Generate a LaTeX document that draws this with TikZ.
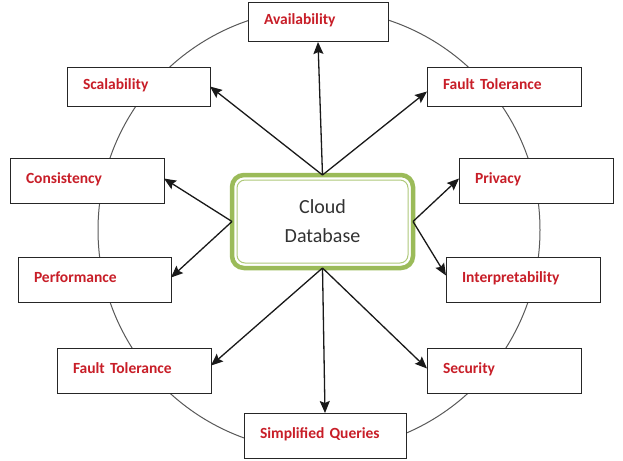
\documentclass[tikz,border=0pt]{standalone}
\usepackage{fontspec}
\setmainfont{Carlito}
\usetikzlibrary{arrows.meta,calc}
\definecolor{cgreen}{RGB}{155,187,89}
\definecolor{ired}{RGB}{200,30,40}
\definecolor{cgray}{RGB}{50,50,50}
\tikzset{
  itembox/.style={draw=black!85, line width=1pt, fill=white, anchor=north west,
    inner xsep=16pt, inner ysep=0pt, outer sep=0pt, align=left,
    text height=11pt, text depth=6pt, text=ired,
    font=\fontsize{15.5}{17}\selectfont\bfseries},
  conn/.style={draw=black!90, line width=1.3pt, -{Stealth[length=12pt,width=10pt,inset=2pt]}},
  ring/.style={draw=black!65, line width=1pt},
}
\newcommand{\itemnode}[7]{%
  \node[itembox, text width=#4pt-32pt, minimum width=#4pt, minimum height=#5pt] (#1) at (#2,#3) {#6};}
\begin{document}
\begin{tikzpicture}[x=1pt,y=-1pt]
\useasboundingbox[fill=white] (0,0) rectangle (623,460);
\draw[ring] (319,230) circle[radius=221pt];
\itemnode{avail}{248}{3}{140}{39}{Availability}{}
\itemnode{scal}{67}{67}{143}{39}{Scalability}{}
\itemnode{ftr}{427}{67}{154}{39}{Fault Tolerance}{}
\itemnode{cons}{10}{158}{154}{45}{Consistency}{}
\itemnode{perf}{18}{257}{153}{45}{Performance}{}
\itemnode{priv}{459}{158}{154}{45}{Privacy}{}
\itemnode{interp}{446}{257}{154}{45}{Interpretability}{}
\itemnode{ftl}{57}{348}{154}{45}{Fault Tolerance}{}
\itemnode{simp}{244}{413}{162}{45}{Simplified Queries}{}
\itemnode{sec}{427}{348}{154}{45}{Security}{}
\node[draw=cgreen, line width=4.5pt, rounded corners=12pt, minimum width=181pt, minimum height=93pt,
  fill=white, align=center, text=cgray, font=\fontsize{20}{29}\selectfont, outer sep=0pt]
  (cloud) at (322.5,221.5) {Cloud\\Database};
\draw[cgreen!80, line width=1pt, rounded corners=8pt]
  ($(cloud.north west)+(5,5)$) rectangle ($(cloud.south east)+(-5,-5)$);
\draw[conn] (cloud.north) -- (avail.south);
\draw[conn] (cloud.north) -- (scal.east);
\draw[conn] (cloud.north) -- ([yshift=-5pt]ftr.west);
\draw[conn] (cloud.west) -- ([yshift=2pt]cons.east);
\draw[conn] (cloud.west) -- ([yshift=2pt]perf.east);
\draw[conn] (cloud.east) -- ([yshift=2pt]priv.west);
\draw[conn] (cloud.east) -- ([yshift=4pt]interp.west);
\draw[conn] (cloud.south) -- ([yshift=5pt]ftl.east);
\draw[conn] (cloud.south) -- (simp.north);
\draw[conn] (cloud.south) -- ([yshift=2pt]sec.west);
\end{tikzpicture}
\end{document}
